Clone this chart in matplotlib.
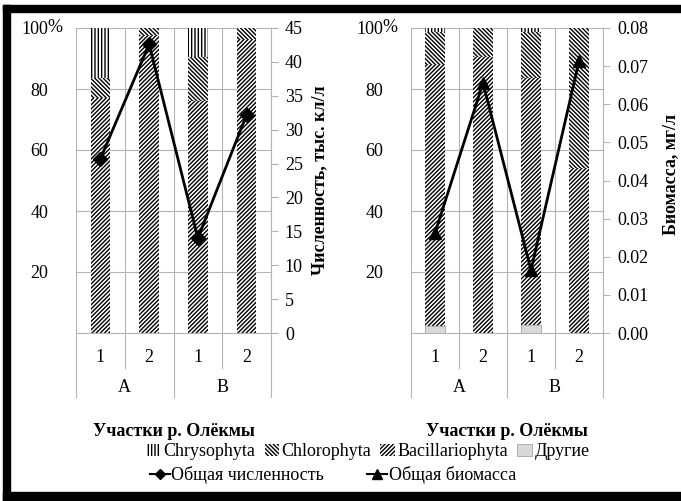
import matplotlib.pyplot as plt
from matplotlib.patches import Rectangle, Patch
from matplotlib.lines import Line2D

plt.rcParams['font.family'] = ['Liberation Serif', 'DejaVu Serif']
plt.rcParams['hatch.color'] = 'black'
plt.rcParams['hatch.linewidth'] = 1.0

SITES = ["1", "2", "1", "2"]
GROUPS = ["A", "B"]
TAXA = ["Chrysophyta", "Chlorophyta", "Bacillariophyta", "Другие"]
XLABEL = "Участки р. Олёкмы"

# структура по численности, %
num_other = [0.0, 0.0, 0.0, 0.0]
num_bacil = [77.0, 97.5, 76.0, 96.0]
num_chloro = [6.5, 2.5, 14.5, 4.0]
num_chryso = [16.5, 0.0, 9.5, 0.0]
num_total = [25.7, 42.6, 14.0, 32.2]  # тыс. кл/л

# структура по биомассе, %
bio_other = [2.2, 0.0, 2.7, 0.0]
bio_bacil = [85.7, 90.5, 81.0, 54.0]
bio_chloro = [10.8, 9.5, 15.0, 46.0]
bio_chryso = [1.3, 0.0, 1.3, 0.0]
bio_total = [0.0262, 0.0656, 0.0165, 0.0713]  # мг/л

HATCH = {"Chrysophyta": "|||||", "Chlorophyta": "\\" * 8, "Bacillariophyta": "/" * 8}
GRID = "#b4b4b4"
FS = 13

fig = plt.figure(figsize=(6.81, 5.01), dpi=100)
W, H = 681, 501


def panel(left_px, right_px, parts, total, marker, msize, ymax2, ystep2, fmt2, ylabel2, lab_x, lab_y):
    ax = fig.add_axes([left_px / W, (H - 333) / H, (right_px - left_px) / W, 305 / H])
    x = list(range(len(SITES)))

    # сетка
    for v in [20, 40, 60, 80, 100]:
        ax.axhline(v, color=GRID, lw=0.8, zorder=0)
    for v in [-0.5, 0.5, 1.5, 2.5, 3.5]:
        ax.axvline(v, color=GRID, lw=0.8, zorder=0)

    bottom = [0.0] * len(x)
    for name, vals in parts:
        if name == "Другие":
            ax.bar(x, vals, 0.4, bottom=bottom, color="#d9d9d9", edgecolor="#a6a6a6",
                   linewidth=0.6, zorder=2)
        else:
            ax.bar(x, vals, 0.4, bottom=bottom, color="white", edgecolor="black",
                   linewidth=0, hatch=HATCH[name], zorder=2)
        bottom = [b + v for b, v in zip(bottom, vals)]

    ax.set_xlim(-0.5, 3.5)
    ax.set_ylim(0, 100)
    ax.set_yticks([0, 20, 40, 60, 80, 100])
    ax.set_yticklabels(["", "20", "40", "60", "80", "100"])
    ax.tick_params(axis="y", length=0, pad=20, labelsize=FS)
    ax.annotate("%", xy=(0, 100), xycoords=("axes fraction", "data"),
                xytext=(-9.5, 0), textcoords="offset points", ha="right", va="center",
                fontsize=FS)
    ax.set_xticks([])
    for s in ["top", "left", "right"]:
        ax.spines[s].set_visible(False)
    ax.spines["bottom"].set_color(GRID)

    # двухуровневая ось категорий
    tr = ax.get_xaxis_transform()
    for xv in [0.5, 2.5]:
        ax.plot([xv, xv], [0, -35 / 305], color=GRID, lw=0.8, transform=tr, clip_on=False)
    for xv in [-0.5, 1.5, 3.5]:
        ax.plot([xv, xv], [0, -64 / 305], color=GRID, lw=0.8, transform=tr, clip_on=False)
    for xv, lab in zip(x, SITES):
        ax.text(xv, -24 / 305, lab, transform=tr, ha="center", va="center", fontsize=FS)
    for i, g in enumerate(GROUPS):
        ax.text(2 * i + 0.5, -54 / 305, g, transform=tr, ha="center", va="center", fontsize=FS)
    ax.text(0.5, -98 / 305, XLABEL, transform=ax.transAxes, ha="center", va="center",
            fontsize=FS, fontweight="bold")

    ax2 = ax.twinx()
    ax2.plot(x, total, color="black", lw=2, marker=marker, markersize=msize, zorder=3)
    ax2.set_ylim(0, ymax2)
    n = int(round(ymax2 / ystep2))
    ticks = [i * ystep2 for i in range(n + 1)]
    ax2.set_yticks(ticks)
    ax2.set_yticklabels([fmt2.format(t) for t in ticks])
    ax2.tick_params(axis="y", length=5, color=GRID, pad=5, labelsize=FS)
    for s in ["top", "left", "bottom"]:
        ax2.spines[s].set_visible(False)
    ax2.spines["right"].set_color(GRID)
    ax2.set_ylabel(ylabel2, fontsize=FS, fontweight="bold")
    ax2.yaxis.set_label_coords(lab_x, lab_y)
    return ax, ax2


panel(76, 271,
      [("Другие", num_other), ("Bacillariophyta", num_bacil),
       ("Chlorophyta", num_chloro), ("Chrysophyta", num_chryso)],
      num_total, "D", 7, 45, 5, "{:.0f}", "Численность, тыс. кл/л", 1.205, 0.5)

panel(411, 603,
      [("Другие", bio_other), ("Bacillariophyta", bio_bacil),
       ("Chlorophyta", bio_chloro), ("Chrysophyta", bio_chryso)],
      bio_total, "^", 9, 0.08, 0.01, "{:.2f}", "Биомасса, мг/л", 1.31, 0.52)

# легенда
patches = []
for name in TAXA:
    if name == "Другие":
        patches.append(Patch(facecolor="#d9d9d9", edgecolor="#a6a6a6", linewidth=0.6))
    else:
        patches.append(Patch(facecolor="white", edgecolor="black", linewidth=0,
                             hatch=HATCH[name]))
fig.legend(patches, TAXA, ncol=4, loc="center", bbox_to_anchor=(368 / W, 1 - 452 / H),
           frameon=False, fontsize=FS, handlelength=0.8, handleheight=0.6,
           handletextpad=0.15, columnspacing=0.5, borderpad=0, borderaxespad=0)

lines = [Line2D([0], [0], color="black", lw=1.5, marker="D", markersize=5),
         Line2D([0], [0], color="black", lw=1.5, marker="^", markersize=7)]
fig.legend(lines, ["Общая численность", "Общая биомасса"], ncol=2, loc="center",
           bbox_to_anchor=(333 / W, 1 - 475 / H), frameon=False, fontsize=FS,
           handlelength=1.1, handletextpad=0.1, columnspacing=2.4,
           borderpad=0, borderaxespad=0)

# чёрная рамка
fig.add_artist(Rectangle((3 / W, 1 - 12 / H), 1, 7 / H, transform=fig.transFigure,
                         color="black", zorder=10))
fig.add_artist(Rectangle((3 / W, 0), 7 / W, 1 - 5 / H, transform=fig.transFigure,
                         color="black", zorder=10))
fig.add_artist(Rectangle((3 / W, 0), 1, 9 / H, transform=fig.transFigure,
                         color="black", zorder=10))

plt.savefig("out.png", dpi=100)
plt.close()
